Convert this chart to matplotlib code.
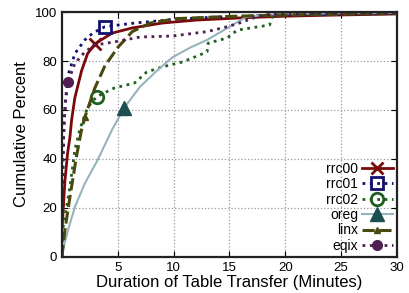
import matplotlib.pyplot as plt

plt.rcParams["font.family"] = ["Liberation Sans", "DejaVu Sans"]

# CDFs of table transfer duration
rrc00_x = [0.02, 0.27, 0.5, 0.72, 0.87, 1.16, 1.76, 2.3, 2.95, 4.5, 6.3, 9, 12, 16, 20, 25, 30]
rrc00_y = [12, 31, 42, 49, 56, 65, 76, 83, 87, 91.4, 93.5, 95.5, 96.7, 97.6, 98.3, 98.8, 99.2]

rrc01_x = [0, 0.03, 0.1, 0.2, 0.4, 0.6, 1.16, 2.05, 2.8, 3.85, 6.5, 10, 14, 20, 25, 30]
rrc01_y = [0, 20, 40, 55, 68, 75, 83, 88.6, 91.5, 94, 95.5, 97, 98, 98.8, 99.1, 99.4]

rrc02_x = [0.1, 0.72, 1.16, 1.6, 1.9, 2.3, 3.1, 4.7, 6.5, 7.6, 9, 10.8, 13, 13.1,
           14.8, 15.7, 18.6, 18.9, 21, 25, 30]
rrc02_y = [12, 28.6, 43.7, 52, 56, 61, 65.4, 69, 71, 75.5, 77.6, 79.6, 83.7, 87.3,
           89.4, 92.6, 94.7, 98.8, 99.1, 99.3, 99.5]

oreg_x = [0, 0.1, 0.55, 1.16, 2.05, 3.2, 4.5, 5.6, 7, 8.5, 9.9, 11.5, 13, 14.8,
          16.5, 18.6, 22, 30]
oreg_y = [0, 3, 11, 20.4, 30, 39.6, 52, 61, 69.5, 76, 81.5, 85.5, 88.6, 93.4,
          98, 99, 99.4, 99.7]

linx_x = [0, 0.27, 0.72, 1.3, 1.76, 2.05, 2.95, 3.85, 5, 6.3, 7.9, 10.3, 15, 20, 25, 30]
linx_y = [0, 11, 24.5, 41, 52, 57, 69, 78, 85.5, 92, 95.5, 97.3, 98.2, 98.8, 99.1, 99.4]

eqix_x = [0, 0.05, 0.15, 0.3, 0.55, 1.16, 2.05, 2.95, 4.7, 7, 9.9, 13, 14.8, 15.9,
          17.1, 18.5, 22, 30]
eqix_y = [0, 25, 50, 63, 71.5, 79, 83.7, 86.5, 87.8, 89.8, 90.2, 92, 94, 95.5,
          97.5, 99, 99.3, 99.5]

xticks = [5, 10, 15, 20, 25, 30]
yticks = [0, 20, 40, 60, 80, 100]

fig = plt.figure(figsize=(4.1, 2.93), dpi=100)
ax = fig.add_axes([0.151, 0.123, 0.817, 0.836])

ax.plot(rrc00_x, rrc00_y, color="#7a0a0a", lw=2, ls="-", marker="x", ms=9, mew=2,
        markevery=[8], label="rrc00")
ax.plot(rrc01_x, rrc01_y, color="#10106e", lw=2, ls=":", marker="s", ms=9, mew=2,
        mfc="none", markevery=[9], label="rrc01")
ax.plot(rrc02_x, rrc02_y, color="#1f5f1f", lw=2, ls=":", marker="o", ms=9, mew=2,
        mfc="none", markevery=[6], label="rrc02")
ax.plot(oreg_x, oreg_y, color="#95b4bc", lw=1.5, ls="-", marker="^", ms=10,
        mfc="#1d4f52", mec="#1d4f52", markevery=[7], label="oreg")
ax.plot(linx_x, linx_y, color="#4a4a10", lw=2.2, ls=(0, (4, 1.5)), marker="^", ms=5,
        markevery=[5], label="linx")
ax.plot(eqix_x, eqix_y, color="#4e1f50", lw=2, ls=":", marker="o", ms=7,
        markevery=[4], label="eqix")

ax.set_xlim(0, 30)
ax.set_ylim(0, 100)
ax.set_xticks(xticks)
ax.set_yticks(yticks)
ax.tick_params(direction="in", top=True, right=True, labelsize=9.5, length=4)
ax.grid(True, color="#9a9a9a", ls=":", lw=0.9)
for s in ax.spines.values():
    s.set_linewidth(1.6)
    s.set_color("#222222")

ax.set_xlabel("Duration of Table Transfer (Minutes)", fontsize=12, labelpad=1)
ax.set_ylabel("Cumulative Percent", fontsize=12, labelpad=4)

ax.legend(loc="lower right", frameon=False, markerfirst=False, fontsize=10,
          labelspacing=0.1, handlelength=2.2, handletextpad=0.3,
          borderaxespad=0.1, borderpad=0.2)

plt.savefig("out.png", dpi=100)
plt.close()
